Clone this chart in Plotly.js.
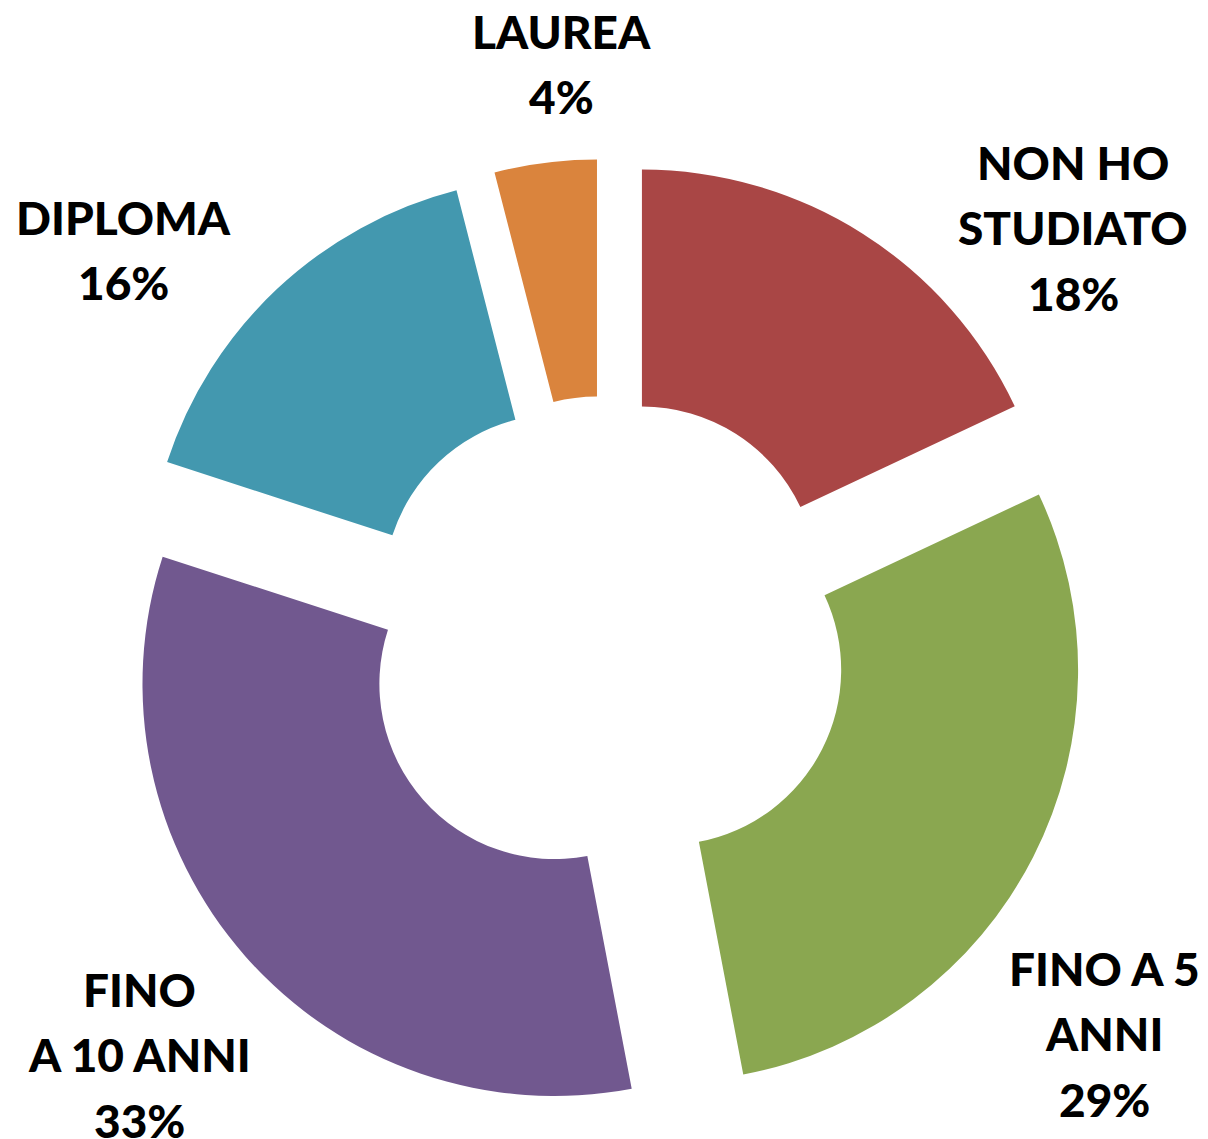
<!DOCTYPE html>
<html>
<head>
<meta charset="utf-8">
<script src="https://cdn.plot.ly/plotly-3.0.1.min.js"></script>
<style>html,body{margin:0;padding:0;background:#fff;}#chart{width:1208px;height:1139px;}</style>
</head>
<body>
<div id="chart"></div>
<script>
// Data
const categories = ["NON HO STUDIATO", "FINO A 5 ANNI", "FINO A 10 ANNI", "DIPLOMA", "LAUREA"];
const values = [18, 29, 33, 16, 4];
const colors = ["#A94645", "#8AA750", "#71588F", "#4398AF", "#DA843D"];
// Label lines as drawn in the chart
const labelLines = [["NON HO", "STUDIATO"], ["FINO A 5", "ANNI"], ["FINO", "A 10 ANNI"], ["DIPLOMA"], ["LAUREA"]];
// Label anchor (first-line centre) in pixels
const labelPos = [[1073, 162], [1104, 968], [139, 989], [123, 217], [561, 31]];

const W = 1208, H = 1139, LINE = 65.5;

const trace = {
  type: "pie",
  labels: categories,
  values: values,
  sort: false,
  direction: "clockwise",
  rotation: 0,
  hole: 0.425,
  pull: values.map(() => 0.165),
  marker: { colors: colors, line: { width: 0 } },
  textinfo: "none",
  hoverinfo: "label+percent",
  domain: { x: [125.5 / W, 1085.5 / W], y: [20 / H, 980 / H] }
};

const annotations = [];
categories.forEach((c, i) => {
  const lines = labelLines[i].concat([values[i] + "%"]);
  lines.forEach((t, j) => {
    annotations.push({
      text: t,
      xref: "paper", yref: "paper",
      x: labelPos[i][0] / W,
      y: 1 - (labelPos[i][1] + j * LINE) / H,
      xanchor: "center", yanchor: "middle",
      showarrow: false,
      font: { family: "Lato, 'Liberation Sans', sans-serif", size: 46, color: "#000000", weight: 900 }
    });
  });
});

const layout = {
  width: W, height: H,
  margin: { l: 0, r: 0, t: 0, b: 0 },
  paper_bgcolor: "#ffffff",
  showlegend: false,
  annotations: annotations
};

Plotly.newPlot("chart", [trace], layout, { displayModeBar: false, staticPlot: true });
</script>
</body>
</html>
